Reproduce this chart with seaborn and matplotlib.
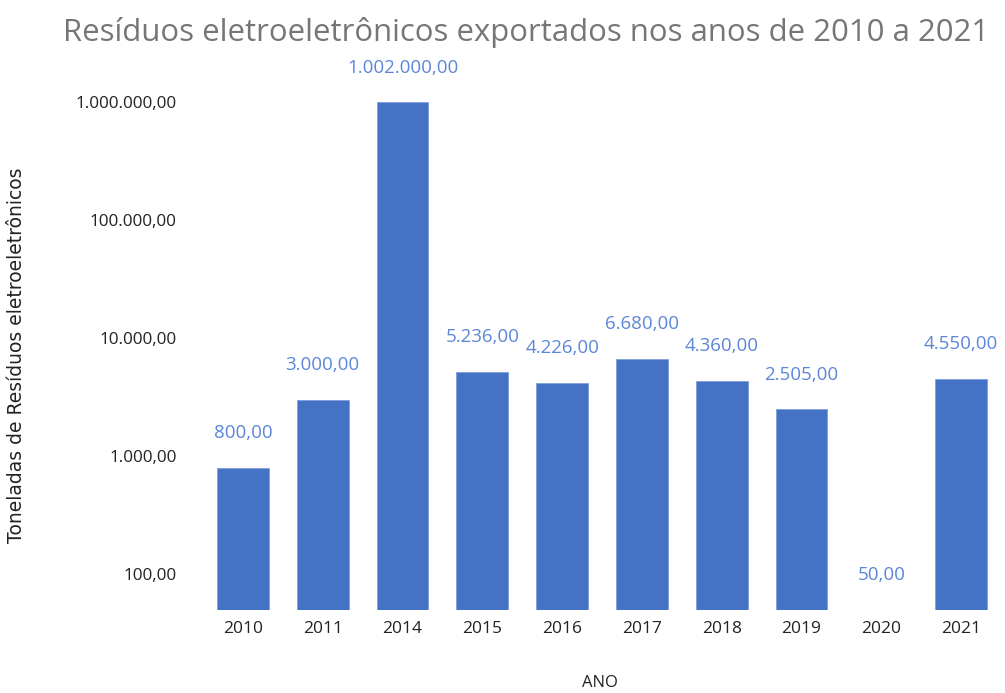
import matplotlib
matplotlib.use("Agg")
import matplotlib.pyplot as plt
import seaborn as sns
import pandas as pd
from matplotlib.ticker import FixedLocator, FuncFormatter

anos = ["2010", "2011", "2014", "2015", "2016", "2017", "2018", "2019", "2020", "2021"]
toneladas = [800, 3000, 1002000, 5236, 4226, 6680, 4360, 2505, 50, 4550]
y_ticks = [100, 1000, 10000, 100000, 1000000]

titulo = "Resíduos eletroeletrônicos exportados nos anos de 2010 a 2021"
rotulo_x = "ANO"
rotulo_y = "Toneladas de Resíduos eletroeletrônicos"


def br(v):
    s = f"{v:,.2f}"
    return s.replace(",", "X").replace(".", ",").replace("X", ".")


sns.set_theme(style="white")
plt.rcParams["font.family"] = ["Open Sans", "DejaVu Sans"]

df = pd.DataFrame({"ano": anos, "t": toneladas})

fig = plt.figure(figsize=(10.05, 6.93), dpi=100)
ax = fig.add_axes([0.202, 0.1198, 0.794, 0.7936])

sns.barplot(data=df, x="ano", y="t", color="#4472c4", saturation=1, width=0.65,
            edgecolor="#7fa0dc", linewidth=0.6, ax=ax)
ax.set_yscale("log")
ax.set_ylim(50, 10 ** 6.36)
ax.set_xlim(-0.5, len(anos) - 0.5)

ax.yaxis.set_major_locator(FixedLocator(y_ticks))
ax.yaxis.set_minor_locator(FixedLocator([]))
ax.yaxis.set_major_formatter(FuncFormatter(lambda v, p: br(v)))

for sp in ax.spines.values():
    sp.set_visible(False)
ax.tick_params(axis="both", length=0, colors="#222222")
ax.tick_params(axis="y", pad=19, labelsize=12.3)
ax.tick_params(axis="x", pad=8, labelsize=12.5)

for i, v in enumerate(toneladas):
    ax.annotate(br(v), xy=(i, v), xytext=(0, 25), textcoords="offset points",
                ha="center", va="center", fontsize=13.5, color="#5b86d9")

ax.set_xlabel(rotulo_x, fontsize=12, color="#222222")
ax.xaxis.set_label_coords(0.497, -0.133)
ax.xaxis.label.set_va("center")
ax.set_ylabel(rotulo_y, fontsize=13.5, color="#222222")
ax.yaxis.label.set_fontfamily("DejaVu Sans")
ax.yaxis.set_label_coords(-0.222, 0.464)

fig.suptitle(titulo, fontsize=22.4, color="#767676", x=0.523, y=0.953, va="center")

fig.savefig("out.png", dpi=100)
